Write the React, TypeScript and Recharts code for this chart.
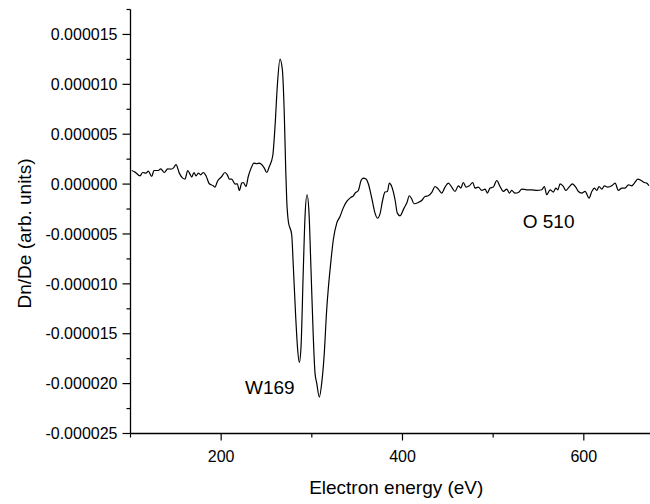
import React from 'react';
import { LineChart, Line, XAxis, YAxis, ReferenceDot } from 'recharts';

// Electron energy (eV)
const energy = [
  101.3, 105.0, 110.5, 113.5, 117.1, 119.6, 123.4, 125.9, 130.7, 133.3,
  137.3, 141.0, 144.7, 147.2, 150.2, 153.8, 157.6, 160.1, 163.1, 165.6,
  167.5, 170.0, 172.3, 174.8, 177.4, 180.3, 183.3, 186.9, 191.3, 193.2,
  195.8, 200.6, 204.2, 206.8, 209.0, 211.6, 215.3, 217.8, 220.0, 222.7,
  224.4, 227.4, 229.9, 232.6, 236.2, 239.2, 242.1, 245.1, 247.6, 250.2,
  253.1, 256.9, 259.4, 261.9, 264.9, 267.5, 269.7, 271.2, 272.3, 274.1,
  277.8, 279.6, 282.2, 284.4, 286.2, 288.1, 290.6, 292.5, 294.7, 296.9,
  299.1, 301.6, 303.5, 305.4, 308.3, 310.9, 313.5, 316.4, 321.2, 323.7,
  327.5, 331.1, 334.1, 338.5, 342.9, 345.8, 347.7, 351.3, 354.3, 356.8,
  359.8, 362.3, 366.1, 369.7, 372.3, 375.2, 378.2, 380.7, 383.3, 385.5,
  388.1, 391.8, 394.3, 397.3, 401.7, 404.7, 407.6, 410.2, 412.7, 417.5,
  421.2, 424.9, 428.5, 432.3, 435.9, 439.5, 443.3, 446.9, 450.6, 454.3,
  458.0, 461.6, 464.3, 467.1, 470.1, 473.7, 477.5, 480.0, 483.7, 487.4,
  491.1, 493.6, 496.6, 500.2, 504.0, 507.6, 511.3, 515.0, 517.9, 520.5,
  524.2, 527.8, 531.6, 537.1, 542.6, 548.1, 553.6, 556.5, 559.1, 562.8,
  566.4, 569.1, 571.3, 573.8, 577.4, 580.1, 583.7, 587.4, 591.1, 594.0,
  597.7, 601.4, 605.8, 608.8, 611.6, 614.3, 616.8, 619.8, 622.7, 626.4,
  630.8, 634.5, 638.1, 641.9, 645.5, 649.2, 652.9, 655.8, 659.5, 663.2,
  666.8, 669.4, 671.9,
];

// Dn/De in units of 1e-6 (arb. units)
const signalMicro = [
  1.36, 1.20, 0.83, 1.16, 1.10, 1.30, 0.76, 1.36, 1.36, 1.53,
  1.16, 1.53, 1.50, 1.60, 1.96, 1.10, 0.60, 0.50, 1.36, 1.00,
  0.70, 1.16, 0.83, 1.10, 0.93, 1.16, 0.83, 0.03, -0.17, -0.30,
  0.26, 0.76, 1.16, 0.93, 0.50, 0.50, 0.00, 0.03, -0.64, 0.10,
  0.16, -0.24, 0.76, 1.50, 2.11, 2.04, 2.11, 1.93, 1.60, 1.16,
  1.76, 2.84, 5.77, 9.78, 12.53, 11.46, 6.78, 1.43, -1.57, -3.75,
  -5.08, -8.26, -13.27, -16.61, -17.88, -16.28, -8.59, -3.25, -1.07, -2.91,
  -8.59, -15.28, -18.92, -19.95, -21.35, -19.95, -17.28, -12.6, -7.59, -5.58,
  -3.91, -3.25, -2.51, -1.74, -1.34, -1.17, -0.90, -0.64, 0.36, 0.60,
  0.50, 0.03, -1.40, -2.91, -3.41, -2.98, -1.57, -0.80, -0.74, 0.10,
  -0.24, -1.57, -2.91, -3.18, -2.41, -1.90, -1.17, -1.50, -1.97, -1.84,
  -1.64, -1.24, -1.17, -0.84, -0.24, -0.50, -0.90, -0.30, 0.10, -0.30,
  -0.74, -0.17, -0.40, 0.16, -0.30, -0.17, 0.16, -0.40, -0.30, -0.64,
  -0.50, -0.90, -0.40, -0.30, 0.36, -0.24, -0.74, -0.50, -0.90, -0.64,
  -0.90, -0.84, -0.50, -0.57, -0.57, -0.64, -0.57, -0.24, -1.07, -0.57,
  -0.80, -0.40, -0.57, 0.03, -0.24, -0.64, -0.30, 0.03, -0.30, -0.74,
  -0.90, -0.74, -1.40, -0.74, -0.40, -0.64, -0.24, -0.50, -0.17, -0.30,
  -0.17, 0.10, -0.64, -0.40, -0.40, -0.07, -0.17, 0.10, 0.50, 0.36,
  0.16, 0.10, -0.17,
];
const MICRO = 1e-6;

const xMajorTicks = [200, 400, 600];
const xMinorTicks = [100, 300, 500];
const yMajorTicks = [-0.000025, -0.00002, -0.000015, -0.00001, -0.000005, 0, 0.000005, 0.00001, 0.000015];
const yMinorTicks = [-0.0000225, -0.0000175, -0.0000125, -0.0000075, -0.0000025, 0.0000025, 0.0000075, 0.0000125, 0.0000175];

const annotations = [
  { label: 'W169', x: 226.3, y: -21.05 * MICRO },
  { label: 'O 510', x: 532.6, y: -4.38 * MICRO },
];

const data = energy.map((e, i) => ({ e, v: signalMicro[i] * MICRO }));

const FONT = '"Liberation Sans", Arial, Helvetica, sans-serif';
const TICK_FS = 16;
const TITLE_FS = 19;

const Y_TICK_SIZE = 8;
const Y_TICK_MARGIN = 5;
const Y_MINOR = 4;
const X_TICK_SIZE = 7;
const X_TICK_MARGIN = 10;
const X_MINOR = 4;

const YTick = (props: any) => {
  const { x, y, payload } = props;
  const axisX = x + Y_TICK_MARGIN + Y_TICK_SIZE;
  const major = yMajorTicks.includes(payload.value);
  return (
    <g>
      <line x1={axisX - (major ? Y_TICK_SIZE : Y_MINOR)} x2={axisX} y1={y} y2={y} stroke="#000" strokeWidth={1.2} />
      {major && (
        <text x={x} y={y} dy="0.355em" textAnchor="end" fontFamily={FONT} fontSize={TICK_FS} fill="#000">
          {payload.value.toFixed(6)}
        </text>
      )}
    </g>
  );
};

const XTick = (props: any) => {
  const { x, y, payload } = props;
  const axisY = y - X_TICK_MARGIN - X_TICK_SIZE;
  const major = xMajorTicks.includes(payload.value);
  return (
    <g>
      <line x1={x} x2={x} y1={axisY} y2={axisY + (major ? X_TICK_SIZE : X_MINOR)} stroke="#000" strokeWidth={1.2} />
      {major && (
        <text x={x} y={y} dy="0.71em" textAnchor="middle" fontFamily={FONT} fontSize={TICK_FS} fill="#000">
          {String(payload.value)}
        </text>
      )}
    </g>
  );
};

const AnnotationLabel = (text: string) => (props: any) => {
  const vb = props.viewBox || {};
  return (
    <text x={vb.x} y={vb.y} textAnchor="start" fontFamily={FONT} fontSize={TITLE_FS} fill="#000">
      {text}
    </text>
  );
};

export default function App() {
  const xTicks = [...xMinorTicks, ...xMajorTicks].sort((a, b) => a - b);
  const yTicks = [...yMajorTicks, ...yMinorTicks].sort((a, b) => a - b);
  return (
    <div style={{ position: 'absolute', left: 0, top: 0, background: '#fff' }}>
      <LineChart width={650} height={504} data={data} margin={{ top: 9.5, right: 0, bottom: 0, left: 0.5 }}>
        <XAxis
          dataKey="e"
          type="number"
          domain={[100, 673]}
          ticks={xTicks}
          interval={0}
          height={70.5}
          tickSize={X_TICK_SIZE}
          tickMargin={X_TICK_MARGIN}
          tickLine={false}
          tick={<XTick />}
          axisLine={{ stroke: '#000', strokeWidth: 1.3 }}
          allowDataOverflow
          label={{
            content: (p: any) => {
              const vb = p.viewBox;
              return (
                <text x={vb.x + vb.width / 2 + 6} y={vb.y + 60} textAnchor="middle" fontFamily={FONT} fontSize={TITLE_FS} fill="#000">
                  Electron energy (eV)
                </text>
              );
            },
          }}
        />
        <YAxis
          type="number"
          domain={[-0.000025, 0.0000175]}
          ticks={yTicks}
          interval={0}
          width={130}
          tickSize={Y_TICK_SIZE}
          tickMargin={Y_TICK_MARGIN}
          tickLine={false}
          tick={<YTick />}
          axisLine={{ stroke: '#000', strokeWidth: 1.3 }}
          allowDataOverflow
          label={{
            content: (p: any) => {
              const vb = p.viewBox;
              const cx = vb.x + 24;
              const cy = vb.y + vb.height / 2 + 12;
              return (
                <text x={cx} y={cy} transform={`rotate(-90 ${cx} ${cy})`} textAnchor="middle" dominantBaseline="central" fontFamily={FONT} fontSize={TITLE_FS} fill="#000">
                  Dn/De (arb. units)
                </text>
              );
            },
          }}
        />
        <Line
          type="monotone"
          dataKey="v"
          stroke="#000"
          strokeWidth={1.2}
          dot={false}
          isAnimationActive={false}
        />
        {annotations.map((a) => (
          <ReferenceDot key={a.label} x={a.x} y={a.y} r={0} fill="none" stroke="none" label={{ content: AnnotationLabel(a.label) } as any} />
        ))}
      </LineChart>
    </div>
  );
}
